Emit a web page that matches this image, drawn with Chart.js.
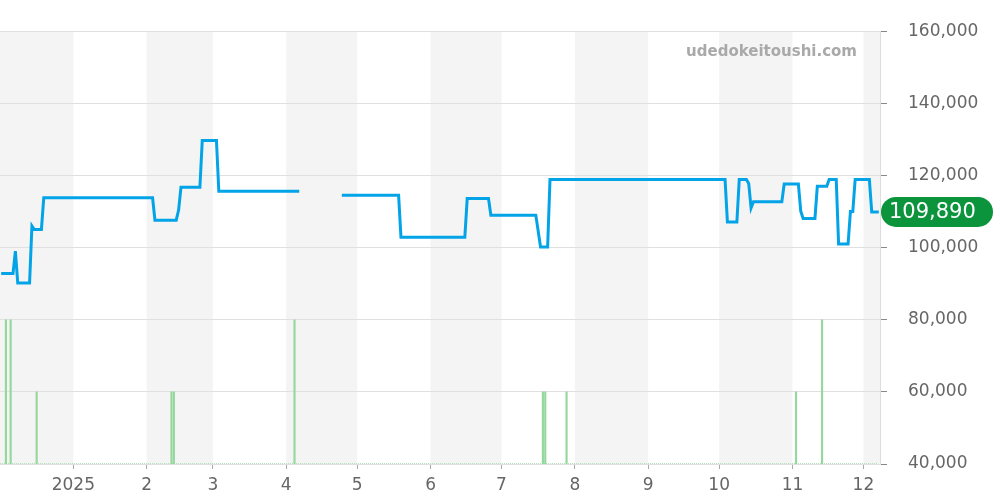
<!DOCTYPE html>
<html lang="ja">
<head>
    <meta charset="UTF-8">
    <title>udedokeitoushi.com price chart</title>
    <script src="https://cdn.jsdelivr.net/npm/chart.js@4"></script>
    <style>
        html, body { margin: 0; padding: 0; background: #fff; }
        .chart-box { width: 1000px; height: 500px; position: relative; }
    </style>
</head>
<body>
    <div class="chart-box">
        <canvas id="priceChart"></canvas>
    </div>

    <script>
        // price line (null = no data)
        const priceDates = [
            '2024-12-01', '2024-12-06', '2024-12-07', '2024-12-08', '2024-12-13', '2024-12-14',
            '2024-12-15', '2024-12-18', '2024-12-19', '2025-02-03', '2025-02-04', '2025-02-13',
            '2025-02-14', '2025-02-15', '2025-02-23', '2025-02-24', '2025-03-02', '2025-03-03',
            '2025-04-06', '2025-04-15', '2025-04-24', '2025-05-18', '2025-05-19', '2025-06-15',
            '2025-06-16', '2025-06-25', '2025-06-26', '2025-07-15', '2025-07-17', '2025-07-20',
            '2025-07-21', '2025-10-03', '2025-10-04', '2025-10-08', '2025-10-09', '2025-10-12',
            '2025-10-13', '2025-10-14', '2025-10-15', '2025-10-27', '2025-10-28', '2025-11-03',
            '2025-11-04', '2025-11-05', '2025-11-10', '2025-11-11', '2025-11-15', '2025-11-16',
            '2025-11-19', '2025-11-20', '2025-11-24', '2025-11-25', '2025-11-26', '2025-11-27',
            '2025-12-03', '2025-12-04', '2025-12-07'
        ];
        const priceValues = [
            92800, 92800, 99000, 90200, 90200, 106000,
            105000, 105000, 113800, 113800, 107600, 107600,
            110400, 116700, 116700, 129700, 129700, 115600,
            115600, null, 114500, 114500, 102900, 102900,
            113600, 113600, 109000, 109000, 100200, 100200,
            118900, 118900, 107100, 107100, 118900, 118900,
            117800, 111000, 112700, 112700, 117600, 117600,
            110100, 108100, 108100, 117000, 117000, 118900,
            118900, 101000, 101000, 110000, 110000, 118900,
            118900, 109890, 109890
        ];

        // listings per day (green bars)
        const volumeDates = [
            '2024-12-03', '2024-12-05', '2024-12-16', '2025-02-11', '2025-02-12', '2025-04-04',
            '2025-07-18', '2025-07-19', '2025-07-28', '2025-11-02', '2025-11-13'
        ];
        const volumeValues = [2, 2, 1, 1, 1, 2, 1, 1, 1, 1, 2];

        const rangeStart = '2024-12-01';
        const rangeEnd = '2025-12-08';

        const monthStarts = [
            '2024-12-01', '2025-01-01', '2025-02-01', '2025-03-01', '2025-04-01', '2025-05-01',
            '2025-06-01', '2025-07-01', '2025-08-01', '2025-09-01', '2025-10-01', '2025-11-01',
            '2025-12-01'
        ];
        const tickDates = monthStarts.slice(1);
        const tickLabels = ['2025', '2', '3', '4', '5', '6', '7', '8', '9', '10', '11', '12'];

        const FONT = "'DejaVu Sans', sans-serif";
        const t = d => Date.parse(d);
        const noon = d => Date.parse(d + 'T12:00:00Z');   // daily data sits at mid-day

        // gray band on every other month
        const monthBands = {
            id: 'monthBands',
            beforeDraw(chart) {
                const { ctx, chartArea, scales } = chart;
                const x = scales.x;
                ctx.save();
                ctx.fillStyle = '#f4f4f4';
                for (let i = 0; i < monthStarts.length; i += 2) {
                    const a = x.getPixelForValue(t(monthStarts[i]));
                    const endDate = i + 1 < monthStarts.length ? monthStarts[i + 1] : rangeEnd;
                    const b = Math.min(x.getPixelForValue(t(endDate)), chartArea.right);
                    ctx.fillRect(a, chartArea.top, b - a, chartArea.bottom - chartArea.top);
                }
                ctx.restore();
            }
        };

        // watermark + last price badge
        const overlay = {
            id: 'overlay',
            afterDraw(chart) {
                const { ctx, chartArea, scales } = chart;
                ctx.save();
                ctx.font = "bold 15px " + FONT;
                ctx.fillStyle = '#a9a9a9';
                ctx.textAlign = 'right';
                ctx.textBaseline = 'middle';
                ctx.fillText('udedokeitoushi.com', chartArea.right - 23, 52);

                let last = null;
                for (let i = priceValues.length - 1; i >= 0; i--) {
                    if (priceValues[i] !== null) { last = priceValues[i]; break; }
                }
                const y = scales.y.getPixelForValue(last);
                const left = chartArea.right + 1, w = 112, h = 30, r = 15;
                ctx.fillStyle = '#0b943c';
                ctx.beginPath();
                ctx.roundRect(left, y - h / 2, w, h, r);
                ctx.fill();
                ctx.fillStyle = '#fff';
                ctx.font = "21px " + FONT;
                ctx.textAlign = 'left';
                ctx.fillText(last.toLocaleString('en-US'), left + 8, y + 1);
                ctx.restore();
            }
        };

        new Chart(document.getElementById('priceChart'), {
            type: 'line',
            data: {
                datasets: [
                    {
                        label: 'price',
                        data: priceDates.map((d, i) => ({ x: noon(d), y: priceValues[i] })),
                        borderColor: '#03a3e8',
                        borderWidth: 3,
                        pointRadius: 0,
                        tension: 0,
                        spanGaps: false,
                        yAxisID: 'y',
                        order: 0
                    },
                    {
                        type: 'bar',
                        label: 'volume',
                        data: volumeDates.map((d, i) => ({ x: noon(d), y: volumeValues[i] })),
                        backgroundColor: '#95d89e',
                        barThickness: 1.5,
                        grouped: false,
                        yAxisID: 'y2',
                        order: 1
                    },
                    {
                        label: 'base',
                        data: [{ x: t(rangeStart), y: 0 }, { x: t('2025-12-07'), y: 0 }],
                        borderColor: '#9fd9a8',
                        borderWidth: 1.5,
                        borderDash: [1, 1],
                        pointRadius: 0,
                        yAxisID: 'y2',
                        order: 2
                    }
                ]
            },
            options: {
                responsive: true,
                maintainAspectRatio: false,
                animation: false,
                layout: { padding: { top: 31, left: 0, right: 0, bottom: 0 } },
                plugins: {
                    legend: { display: false },
                    tooltip: { enabled: false }
                },
                scales: {
                    x: {
                        type: 'linear',
                        offset: false,
                        min: t(rangeStart),
                        max: t(rangeEnd),
                        afterBuildTicks: s => { s.ticks = tickDates.map(d => ({ value: t(d) })); },
                        afterFit: s => { s.height = 36; },
                        grid: { offset: false, drawOnChartArea: false, tickLength: 5, color: '#aaa' },
                        border: { display: false },
                        ticks: {
                            autoSkip: false,
                            maxRotation: 0,
                            padding: 6,
                            color: '#666',
                            font: { family: FONT, size: 17 },
                            callback: (v, i) => tickLabels[i]
                        }
                    },
                    y: {
                        position: 'right',
                        min: 40000,
                        max: 160000,
                        afterFit: s => { s.width = 120; },
                        grid: { color: '#e0e0e0', tickLength: 7, tickColor: '#888' },
                        border: { display: true, color: '#ddd' },
                        ticks: {
                            stepSize: 20000,
                            padding: 21,
                            color: '#666',
                            font: { family: FONT, size: 17 },
                            callback: v => v.toLocaleString('en-US')
                        }
                    },
                    y2: {
                        display: false,
                        min: 0,
                        max: 6
                    }
                }
            },
            plugins: [monthBands, overlay]
        });
    </script>
</body>
</html>
